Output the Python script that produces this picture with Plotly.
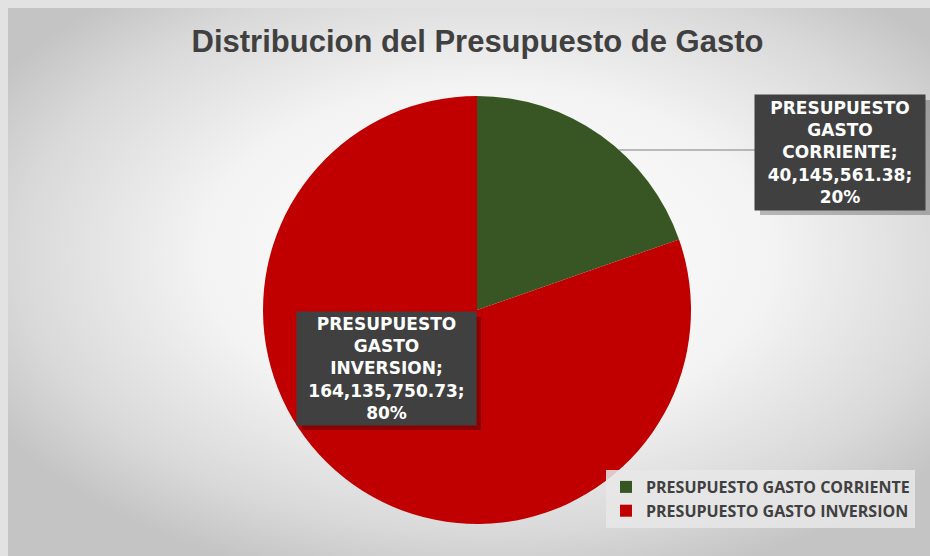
import base64
import plotly.graph_objects as go

# ---- data ----
labels = ["PRESUPUESTO GASTO CORRIENTE", "PRESUPUESTO GASTO INVERSION"]
values = [40145561.38, 164135750.73]
colors = ["#375623", "#C00000"]
title_text = "Distribucion del Presupuesto de Gasto"

W, H = 930, 556

def px(x):
    return x / W

def py(y):
    return 1 - y / H

total = sum(values)
label_texts = []
for lab, v in zip(labels, values):
    pct = round(v / total * 100)
    words = lab.split(" ")
    label_texts.append("<br>".join(words[:-1]) + "<br>" + words[-1] + ";<br>"
                       + f"{v:,.2f};<br>{pct}%")

# background gradient (svg data uri)
svg = f'''<svg xmlns="http://www.w3.org/2000/svg" width="{W}" height="{H}" preserveAspectRatio="none">
<defs><radialGradient id="g" cx="52%" cy="45%" r="62%">
<stop offset="0" stop-color="#ffffff"/>
<stop offset="0.5" stop-color="#f3f3f3"/>
<stop offset="0.82" stop-color="#d9d9d9"/>
<stop offset="1" stop-color="#c4c4c4"/>
</radialGradient></defs>
<rect width="100%" height="100%" fill="url(#g)"/></svg>'''
bg_uri = "data:image/svg+xml;base64," + base64.b64encode(svg.encode()).decode()

fig = go.Figure()
fig.add_trace(go.Pie(
    labels=labels,
    values=values,
    marker=dict(colors=colors, line=dict(width=0)),
    sort=False,
    direction="clockwise",
    rotation=0,
    textinfo="none",
    hoverinfo="label+value+percent",
    domain=dict(x=[px(263), px(691)], y=[py(524), py(96)]),
))

shapes = [
    # leader line
    dict(type="line", xref="paper", yref="paper",
         x0=px(619), y0=py(150), x1=px(755), y1=py(150),
         line=dict(color="#7f7f7f", width=1.2)),
    # label shadows
    dict(type="rect", xref="paper", yref="paper",
         x0=px(760), x1=px(930), y0=py(100), y1=py(215),
         fillcolor="rgba(0,0,0,0.25)", line=dict(width=0), layer="above"),
    dict(type="rect", xref="paper", yref="paper",
         x0=px(302), x1=px(481), y0=py(317), y1=py(430),
         fillcolor="rgba(0,0,0,0.28)", line=dict(width=0), layer="above"),
]

lab_font = dict(family="DejaVu Sans", size=17, color="white", weight="bold")
annotations = [
    dict(text=label_texts[0], xref="paper", yref="paper",
         x=px(840), y=py(152.5), xanchor="center", yanchor="middle",
         showarrow=False, bgcolor="#404040", width=170, height=115, borderpad=0,
         font=lab_font, align="center"),
    dict(text=label_texts[1], xref="paper", yref="paper",
         x=px(386.5), y=py(368.5), xanchor="center", yanchor="middle",
         showarrow=False, bgcolor="#404040", width=179, height=113, borderpad=0,
         font=lab_font, align="center"),
]

fig.update_layout(
    width=W, height=H,
    autosize=False,
    margin=dict(l=0, r=0, t=0, b=0),
    paper_bgcolor="#e2e2e2",
    plot_bgcolor="rgba(0,0,0,0)",
    title=dict(text=title_text, x=px(477.5), xanchor="center", y=py(41), yanchor="middle",
               font=dict(family="Arial", size=31, color="#404040", weight="bold")),
    images=[dict(source=bg_uri, xref="paper", yref="paper", x=px(8), y=py(8),
                 sizex=1 - px(8), sizey=1 - 8 / H, sizing="stretch", layer="below",
                 xanchor="left", yanchor="top")],
    shapes=shapes,
    annotations=annotations,
    showlegend=True,
    legend=dict(x=px(606), y=py(470), xanchor="left", yanchor="top",
                bgcolor="rgba(232,232,232,0.85)",
                font=dict(family="Open Sans", size=16, color="#404040", weight="bold"),
                itemwidth=30),
)

fig.write_html("out.html")
